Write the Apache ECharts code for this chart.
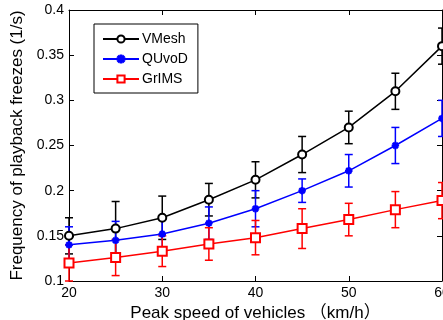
<!DOCTYPE html>
<html>
<head>
<meta charset="utf-8">
<script src="https://cdn.jsdelivr.net/npm/echarts@6/dist/echarts.min.js"></script>
<style>
  html, body { margin: 0; padding: 0; background: #fff; }
  #chart { width: 443px; height: 320px; }
</style>
</head>
<body>
<div id="chart"></div>
<script>
const speeds = [20, 25, 30, 35, 40, 45, 50, 55, 60];
const vmesh = [0.15, 0.158, 0.17, 0.19, 0.212, 0.24, 0.27, 0.31, 0.36];
const vmeshErr = [0.02, 0.03, 0.024, 0.018, 0.02, 0.02, 0.018, 0.02, 0.02];
const quvod = [0.14, 0.145, 0.152, 0.164, 0.18, 0.2, 0.222, 0.25, 0.28];
const quvodErr = [0.02, 0.021, 0.017, 0.018, 0.02, 0.013, 0.018, 0.02, 0.02];
const grims = [0.12, 0.126, 0.133, 0.141, 0.148, 0.158, 0.168, 0.179, 0.189];
const grimsErr = [0.02, 0.02, 0.017, 0.018, 0.019, 0.022, 0.018, 0.02, 0.02];

const FONT = "'Liberation Sans', Arial, 'Noto Sans CJK SC', sans-serif";
const star = "path://M-0.12,-1L0.12,-1L0.12,1L-0.12,1Z M-1,-0.12L1,-0.12L1,0.12L-1,0.12Z " +
  "M-0.79,-0.62L-0.62,-0.79L0.79,0.62L0.62,0.79Z M0.62,-0.79L0.79,-0.62L-0.62,0.79L-0.79,0.62Z";

function errorSeries(name, vals, errs, color) {
  return {
    name: name,
    type: "custom",
    silent: true,
    data: speeds.map((s, i) => [s, vals[i] - errs[i], vals[i] + errs[i]]),
    renderItem: function (params, api) {
      const lo = api.coord([api.value(0), api.value(1)]);
      const hi = api.coord([api.value(0), api.value(2)]);
      const w = 4;
      const st = { stroke: color, lineWidth: 1.5 };
      return {
        type: "group",
        children: [
          { type: "line", shape: { x1: lo[0], y1: lo[1], x2: hi[0], y2: hi[1] }, style: st },
          { type: "line", shape: { x1: lo[0] - w, y1: lo[1], x2: lo[0] + w, y2: lo[1] }, style: st },
          { type: "line", shape: { x1: hi[0] - w, y1: hi[1], x2: hi[0] + w, y2: hi[1] }, style: st },
        ],
      };
    },
    z: 3,
  };
}

function lineSeries(name, vals, color, symbol, size) {
  return {
    name: name,
    type: "line",
    data: speeds.map((s, i) => [s, vals[i]]),
    symbol: symbol,
    symbolSize: size,
    showAllSymbol: true,
    lineStyle: { color: color, width: 1.5 },
    itemStyle: { color: color, borderColor: color, borderWidth: 1.5 },
    emphasis: { disabled: true },
    z: 4,
  };
}

const tickStyle = { show: true, inside: true, length: 5, lineStyle: { color: "#000" } };
const axisLine = { show: true, lineStyle: { color: "#000", width: 1 } };

const chart = echarts.init(document.getElementById("chart"), null, { renderer: "canvas" });
chart.setOption({
  animation: false,
  backgroundColor: "#fff",
  grid: { left: 69, top: 10, right: 1, bottom: 39, outerBoundsMode: "none", containLabel: false },
  legend: {
    data: ["VMesh", "QUvoD", "GrIMS"],
    orient: "vertical",
    left: 94,
    top: 24,
    padding: [7, 10, 6, 8],
    itemWidth: 36,
    itemHeight: 9,
    itemGap: 4,
    backgroundColor: "#fff",
    borderColor: "#000",
    borderWidth: 1,
    borderRadius: 0,
    textStyle: { fontFamily: FONT, fontSize: 14, color: "#000", padding: [0, 0, 0, -2], lineHeight: 16 },
    selectedMode: false,
  },
  xAxis: [
    {
      type: "value",
      min: 20,
      max: 60,
      interval: 10,
      name: "Peak speed of vehicles （km/h）",
      nameLocation: "middle",
      nameGap: 18,
      nameTextStyle: { fontFamily: FONT, fontSize: 17, color: "#000" },
      axisLine: axisLine,
      axisTick: tickStyle,
      axisLabel: { fontFamily: FONT, fontSize: 14, color: "#000", margin: 5 },
      splitLine: { show: false },
    },
    {
      type: "value",
      position: "top",
      min: 20,
      max: 60,
      interval: 10,
      axisLine: axisLine,
      axisTick: tickStyle,
      axisLabel: { show: false },
      splitLine: { show: false },
    },
  ],
  yAxis: [
    {
      type: "value",
      min: 0.1,
      max: 0.4,
      interval: 0.05,
      name: "Frequency of playback freezes (1/s)",
      nameLocation: "middle",
      nameGap: 40,
      nameTextStyle: { fontFamily: FONT, fontSize: 17, color: "#000" },
      axisLine: axisLine,
      axisTick: tickStyle,
      axisLabel: {
        fontFamily: FONT,
        fontSize: 14,
        color: "#000",
        margin: 5,
        formatter: (v) => String(+v.toFixed(2)),
      },
      splitLine: { show: false },
    },
    {
      type: "value",
      position: "right",
      min: 0.1,
      max: 0.4,
      interval: 0.05,
      axisLine: axisLine,
      axisTick: tickStyle,
      axisLabel: { show: false },
      splitLine: { show: false },
    },
  ],
  series: [
    errorSeries("VMesh err", vmesh, vmeshErr, "#000000"),
    lineSeries("VMesh", vmesh, "#000000", "emptyCircle", 8),
    errorSeries("QUvoD err", quvod, quvodErr, "#0000ff"),
    lineSeries("QUvoD", quvod, "#0000ff", star, 6),
    errorSeries("GrIMS err", grims, grimsErr, "#ff0000"),
    lineSeries("GrIMS", grims, "#ff0000", "emptyRect", 9),
  ],
});
</script>
</body>
</html>
